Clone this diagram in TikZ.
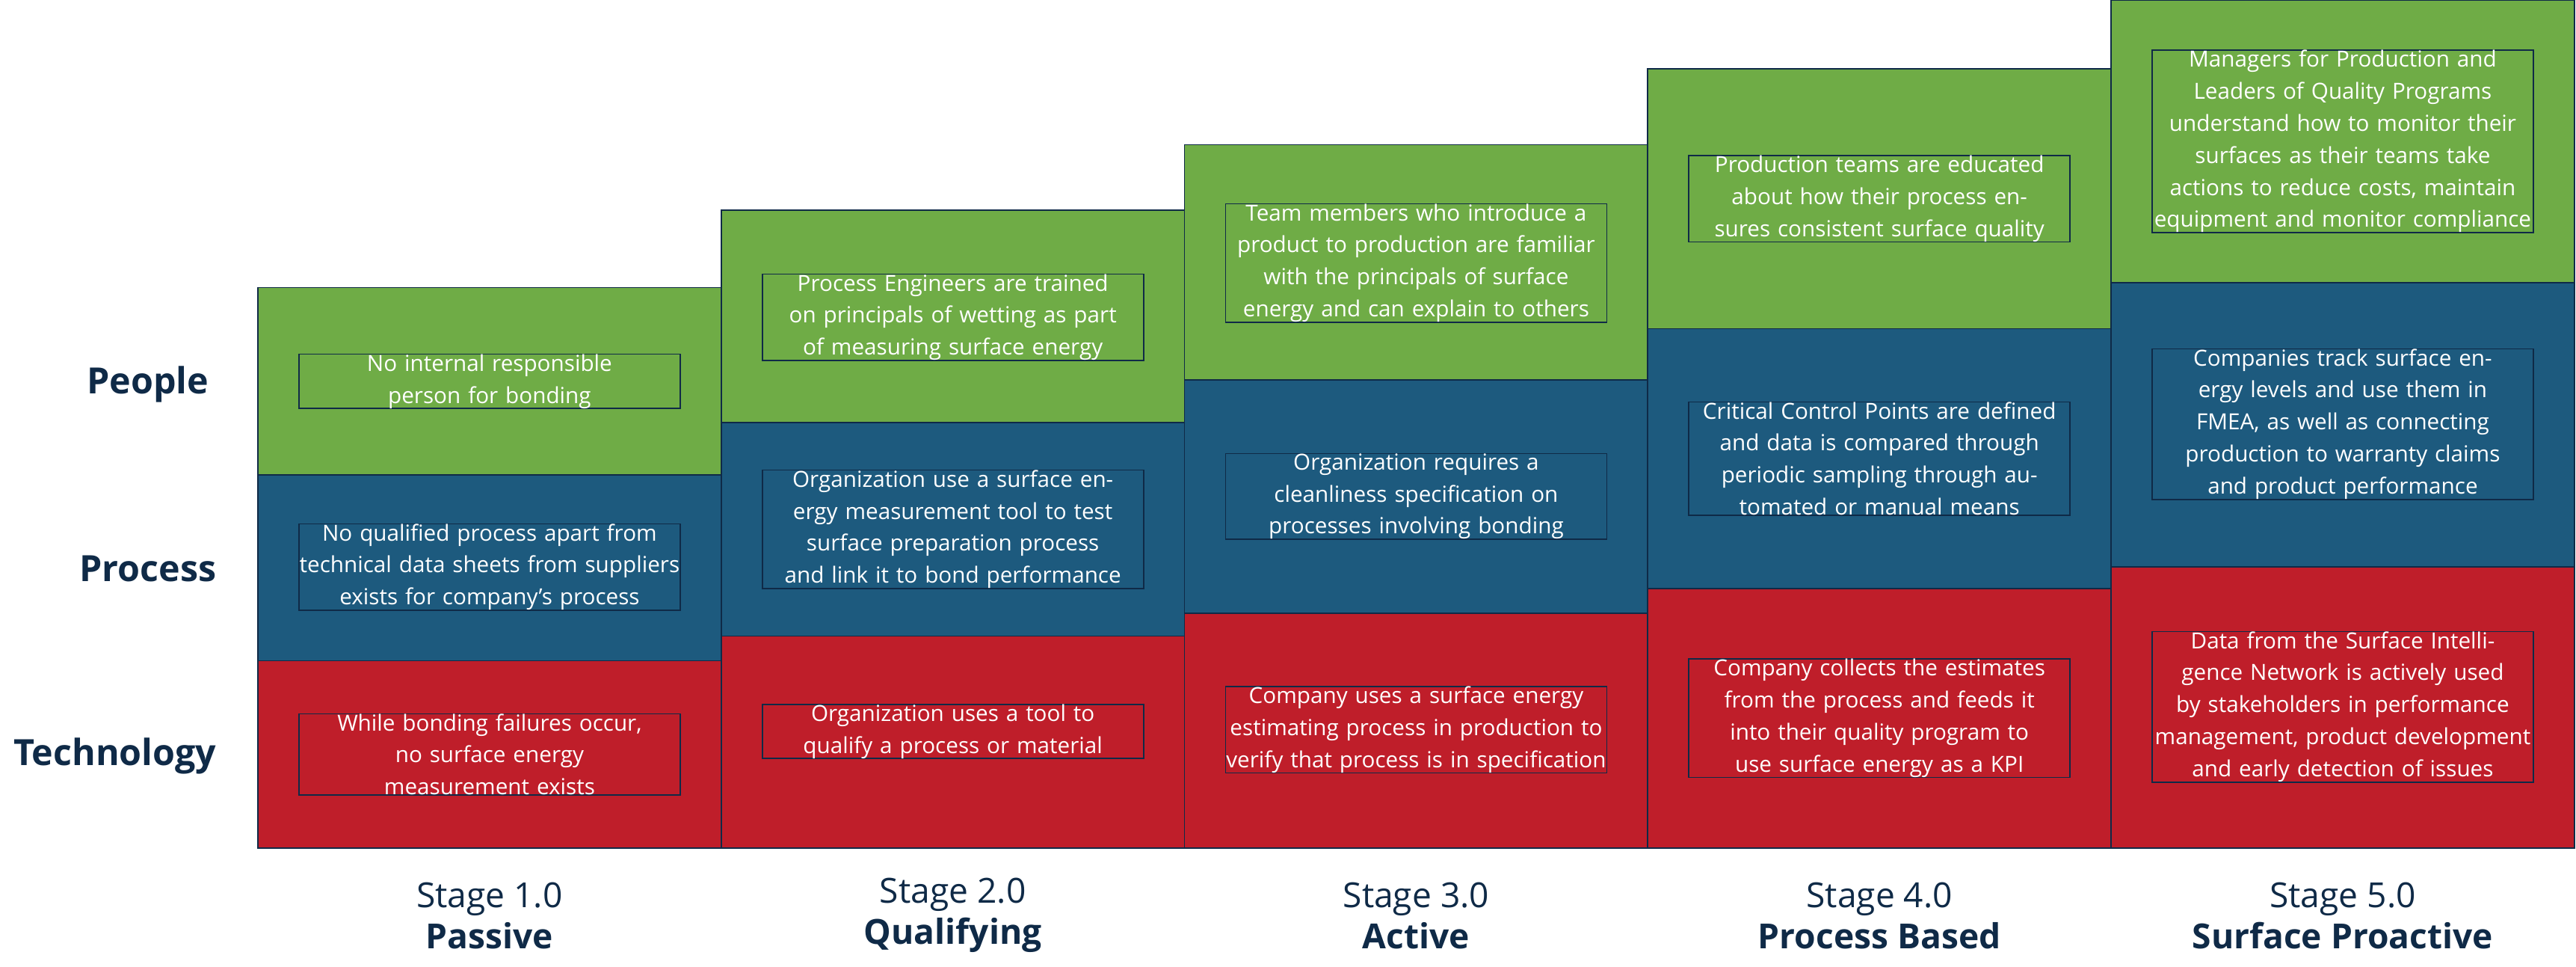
\documentclass[tikz,border=0pt]{standalone}
\usepackage{fontspec}
\setmainfont{Open Sans}
\definecolor{gr}{HTML}{6FAC46}
\definecolor{bl}{HTML}{1D5A7E}
\definecolor{rd}{HTML}{BF1E2A}
\definecolor{nv}{HTML}{0F2A47}
\begin{document}
\begin{tikzpicture}[x=1pt,y=-1pt,
  cell/.style={draw=nv,line width=0.8pt,text=white,align=center,font=\fontsize{13.5}{19.5}\selectfont,text width=232pt,inner sep=0pt},
  row/.style={font=\fontsize{22}{26}\selectfont\bfseries,text=nv},
  stg/.style={font=\fontsize{21}{25}\selectfont,text=nv,align=center}]
\useasboundingbox (0,0) rectangle (1568,588);
\foreach \i/\t/\b/\r in {0/175/289/402,1/128/257/387,2/88/231/373,3/42/200/358,4/0/172/345}{
  \pgfmathsetmacro{\xa}{157+282*\i}
  \pgfmathsetmacro{\xb}{\xa+282}
  \fill[gr] (\xa,\t) rectangle (\xb,\b);
  \fill[bl] (\xa,\b) rectangle (\xb,\r);
  \fill[rd] (\xa,\r) rectangle (\xb,516);
  \draw[nv,line width=0.8pt] (\xa,\t) rectangle (\xb,516) (\xa,\b)--(\xb,\b) (\xa,\r)--(\xb,\r);
}
\node[cell] (g1) at (298,232) {No internal responsible\\person for bonding};
\node[cell] (b1) at (298,345) {No qualified process apart from technical data sheets from suppliers exists for company’s process};
\node[cell] (r1) at (298,459) {While bonding failures occur,\\no surface energy\\measurement exists};
\node[cell] (g2) at (580,193) {Process Engineers are trained on principals of wetting as part of measuring surface energy};
\node[cell] (b2) at (580,322) {Organization use a surface energy measurement tool to test surface preparation process and link it to bond performance};
\node[cell] (r2) at (580,445) {Organization uses a tool to\\qualify a process or material};
\node[cell] (g3) at (862,160) {Team members who introduce a product to production are familiar with the principals of surface energy and can explain to others};
\node[cell] (b3) at (862,302) {Organization requires a\\cleanliness specification on\\processes involving bonding};
\node[cell] (r3) at (862,444) {Company uses a surface energy estimating process in production to verify that process is in specification};
\node[cell] (g4) at (1144,121) {Production teams are educated about how their process ensures consistent surface quality};
\node[cell] (b4) at (1144,279) {Critical Control Points are defined and data is compared through periodic sampling through automated or manual means};
\node[cell] (r4) at (1144,437) {Company collects the estimates from the process and feeds it into their quality program to use surface energy as a KPI};
\node[cell] (g5) at (1426,86) {Managers for Production and Leaders of Quality Programs understand how to monitor their surfaces as their teams take actions to reduce costs, maintain equipment and monitor compliance};
\node[cell] (b5) at (1426,258) {Companies track surface energy levels and use them in FMEA, as well as connecting production to warranty claims and product performance};
\node[cell] (r5) at (1426,430) {Data from the Surface Intelligence Network is actively used by stakeholders in performance management, product development and early detection of issues};
\node[row] (lp) at (90,234) {People};
\node[row] (lq) at (90,346) {Process};
\node[row] (lt) at (70,460) {Technology};
\foreach \i/\n in {1/Passive,2/Qualifying,3/Active,4/Process Based,5/Surface Proactive}{
  \node[stg] (s\i) at (16+282*\i,557) {Stage \i.0\\\textbf{\n}};
}
\end{tikzpicture}
\end{document}
